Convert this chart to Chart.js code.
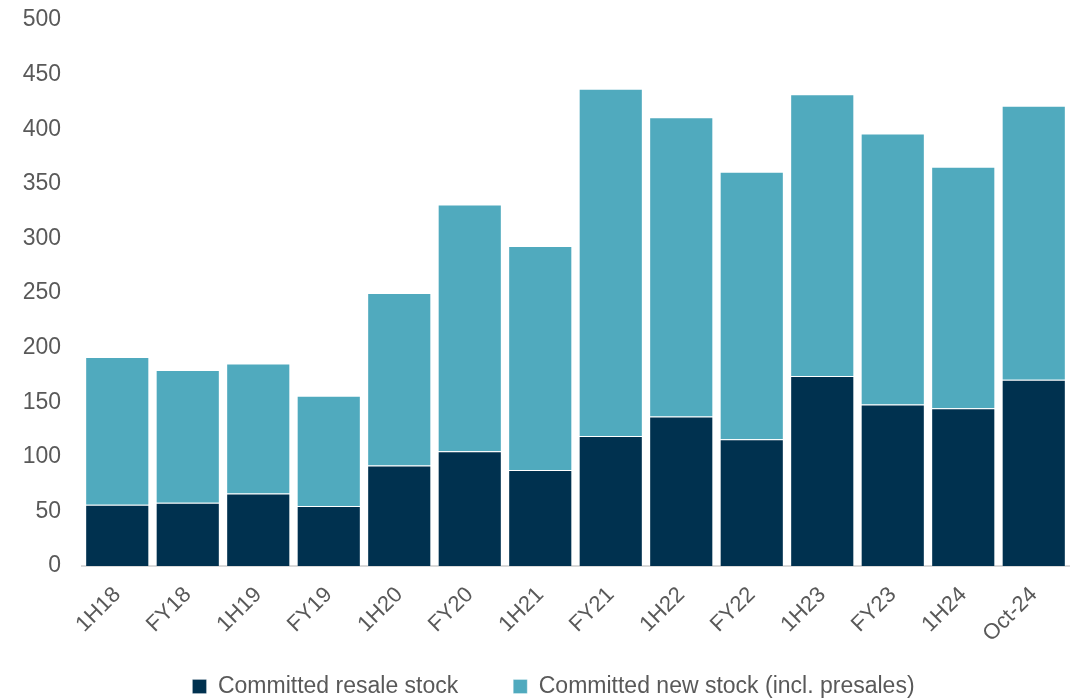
<!DOCTYPE html>
<html>
<head>
<meta charset="utf-8">
<script src="https://cdn.jsdelivr.net/npm/chart.js@4.4.1/dist/chart.umd.min.js"></script>
<style>
  html, body { margin: 0; padding: 0; background: #fff; }
  #wrap { width: 1073px; height: 700px; }
</style>
</head>
<body>
<div id="wrap"><canvas id="stock" width="1073" height="700"></canvas></div>
<script>
// Periodos e estoque comprometido (unidades)
const periodos = ['1H18', 'FY18', '1H19', 'FY19', '1H20', 'FY20', '1H21', 'FY21', '1H22', 'FY22', '1H23', 'FY23', '1H24', 'Oct-24'];
const revenda = [56, 58, 66.5, 55, 92, 105, 88, 119, 137, 116, 174, 148, 144.5, 170.5];
const novos = [135.5, 121.5, 119, 101, 158, 226, 205, 318, 274, 245, 258, 248, 221, 251];
const yTicks = [0, 50, 100, 150, 200, 250, 300, 350, 400, 450, 500];

const cores = {
    revenda: '#00314f',
    novos: '#50aabe'
};
const fonte = '"Liberation Sans", Arial, sans-serif';
const cinza = '#595959';

// Sobe a legenda e centraliza um pouco à direita (o padding das labels também define a altura dela)
const ajusteLegenda = {
    id: 'ajusteLegenda',
    afterLayout(chart) {
        const lg = chart.legend;
        if (!lg) return;
        lg.top -= 26; lg.bottom -= 26;
        lg.left += 19; lg.right += 19;
    }
};

new Chart(document.getElementById('stock').getContext('2d'), {
    type: 'bar',
    data: {
        labels: periodos,
        datasets: [
            {
                label: 'Committed resale stock',
                data: revenda,
                backgroundColor: cores.revenda,
                borderColor: 'rgba(255,255,255,0.22)',
                borderWidth: 1,
                barPercentage: 0.91,
                categoryPercentage: 1
            },
            {
                label: 'Committed new stock (incl. presales)',
                data: novos,
                backgroundColor: cores.novos,
                borderColor: 'rgba(255,255,255,0.3)',
                borderWidth: 1,
                barPercentage: 0.91,
                categoryPercentage: 1
            }
        ]
    },
    options: {
        responsive: false,
        animation: false,
        layout: { padding: { top: 20, right: 4, bottom: -34, left: 0 } },
        scales: {
            x: {
                stacked: true,
                grid: { display: false },
                border: { display: true, color: '#d9d9d9', width: 2 },
                ticks: {
                    color: cinza,
                    font: { family: fonte, size: 22 },
                    minRotation: 45,
                    maxRotation: 45,
                    padding: 8
                },
                afterFit: (scale) => { scale.height = 80; }
            },
            y: {
                stacked: true,
                min: 0,
                max: 500,
                grid: { display: false },
                border: { display: false },
                afterBuildTicks: (scale) => { scale.ticks = yTicks.map(v => ({ value: v })); },
                ticks: {
                    color: cinza,
                    font: { family: fonte, size: 23 },
                    padding: 13
                },
                afterFit: (scale) => { scale.width = 82; scale.paddingTop = 0; }
            }
        },
        plugins: {
            legend: {
                position: 'bottom',
                labels: {
                    color: cinza,
                    font: { family: fonte, size: 23 },
                    boxWidth: 14,
                    boxHeight: 14,
                    padding: 55
                }
            },
            tooltip: { enabled: false }
        }
    },
    plugins: [ajusteLegenda]
});
</script>
</body>
</html>
